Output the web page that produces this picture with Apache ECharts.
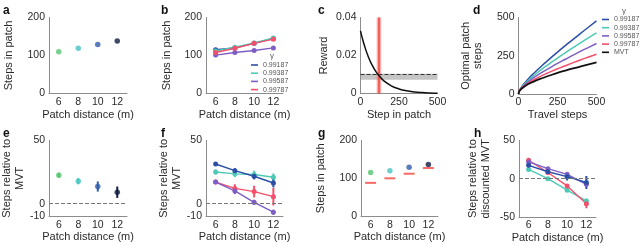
<!DOCTYPE html>
<html><head><meta charset="utf-8">
<script src="https://cdn.jsdelivr.net/npm/echarts@6/dist/echarts.min.js"></script>
<style>html,body{margin:0;padding:0;background:#fff}#c{width:640px;height:246px}</style>
</head><body><div id="c"></div>
<script>
// ---------- data ----------
const distances = [6, 8, 10, 12];
const gammaNames = ['0.99187', '0.99387', '0.99587', '0.99787'];
const mvtName = 'MVT';
// a
const aSteps = [110, 119, 129, 138];
// b
const bBlue = [115, 120, 132, 145];
const bTeal = [112, 122, 133, 146];
const bPurple = [101, 108, 113, 120];
const bRed = [108, 119, 132, 143];
// c
const cSteps = [0, 10, 25, 50, 75, 100, 125, 150, 200, 250, 300, 350, 400, 450, 500];
const cReward = [0.033, 0.0297, 0.0254, 0.0195, 0.0150, 0.0115, 0.0089, 0.0068, 0.0040, 0.0024, 0.0014, 0.00083, 0.0005, 0.00029, 0.00017];
const cLeaveStep = 120, cLeaveStepErr = 15;
const cThreshold = 0.0088, cThresholdErr = 0.0016;
// d
const dTravel = [0, 5, 15, 30, 50, 75, 100, 150, 200, 250, 300, 350, 400, 450, 500];
const dBlue = [0, 20, 38, 60, 84, 112, 137, 185, 230, 274, 316, 357, 398, 438, 478];
const dTeal = [0, 19, 36, 55, 76, 100, 122, 162, 199, 235, 269, 303, 336, 368, 400];
const dPurple = [0, 18, 34, 51, 69, 89, 108, 141, 171, 200, 227, 254, 280, 305, 330];
const dRed = [0, 18, 32, 47, 62, 79, 94, 120, 143, 165, 185, 205, 224, 242, 260];
const dMVT = [0, 17, 30, 43, 57, 71, 83, 103, 121, 138, 153, 167, 180, 193, 206];
// e
const eMean = [22.5, 17.7, 13.5, 9];
const eErr = [2, 2.5, 4, 4.5];
// f
const fBlue = [31.3, 26, 21.6, 16.3], fBlueErr = [1.5, 2, 2.5, 3.5];
const fTeal = [25, 23.5, 23, 20.8], fTealErr = [2, 2.5, 3, 3];
const fPurple = [17, 10, 1, -6.8], fPurpleErr = [1.5, 2.5, 2, 2];
const fRed = [17, 12, 9.5, 5.5], fRedErr = [1.5, 3.3, 4.6, 7];
// g
const gSteps = [115, 120, 129, 136];
const gMVT = [88, 100, 112, 127];
// h
const hBlue = [17.4, 9, 2.6, -5], hBlueErr = [3, 3, 5, 8.5];
const hTeal = [12, 0, -15, -29], hTealErr = [2, 1.5, 2, 3];
const hPurple = [21.8, 13, 5.6, -7.4], hPurpleErr = [2, 2, 3, 3];
const hRed = [24, 8, -9.5, -32.6], hRedErr = [2, 2, 2, 6];

// ---------- styles ----------
const FONT = "'Liberation Sans', Arial, sans-serif";
const TXT = '#2a2a2a';
const AX = '#8c8c8c';
const C_BLUE = '#2b4fa6', C_TEAL = '#4ec9b5', C_PURPLE = '#7d5ec4', C_RED = '#f4506b', C_BLACK = '#111';
const gammaColors = [C_BLUE, C_TEAL, C_PURPLE, C_RED];
const dotColors = ['#56c470', '#47c3c0', '#2f5dab', '#101c45'];

const grids = [
  {left: 49, top: 17.5, width: 78, height: 76},
  {left: 206, top: 17.5, width: 77, height: 76},
  {left: 360.5, top: 17.5, width: 77, height: 76},
  {left: 518.5, top: 17.5, width: 78, height: 76.5},
  {left: 49, top: 140.3, width: 78, height: 76},
  {left: 206, top: 140.3, width: 77, height: 76},
  {left: 361, top: 140.3, width: 77, height: 76},
  {left: 519, top: 140.3, width: 77, height: 76.7}
];

const labelStyle = {color: TXT, fontSize: 10.5, fontFamily: FONT};
const nameStyle = {color: TXT, fontSize: 11, fontFamily: FONT, lineHeight: 12.5};

function xDist(gi) {
  return {
    gridIndex: gi, type: 'value', min: 5, max: 13, interval: 1,
    axisLine: {onZero: false, lineStyle: {color: AX, width: 1}},
    axisTick: {show: false}, splitLine: {show: false},
    axisLabel: Object.assign({margin: 3, formatter: v => distances.includes(v) ? String(v) : ''}, labelStyle),
    name: 'Patch distance (m)', nameLocation: 'middle', nameGap: 14, nameTextStyle: nameStyle
  };
}
function xSteps(gi, name) {
  return {
    gridIndex: gi, type: 'value', min: 0, max: 500, interval: 250,
    axisLine: {onZero: false, lineStyle: {color: AX, width: 1}},
    axisTick: {show: false}, splitLine: {show: false},
    axisLabel: Object.assign({margin: 3}, labelStyle),
    name: name, nameLocation: 'middle', nameGap: 14, nameTextStyle: nameStyle
  };
}
function yAxis(gi, min, max, interval, name, gap, shown, fmt) {
  return {
    gridIndex: gi, type: 'value', min, max, interval,
    axisLine: {onZero: false, lineStyle: {color: AX, width: 1}},
    axisTick: {show: false}, splitLine: {show: false},
    axisLabel: Object.assign({margin: 4, formatter: v => shown.some(s => Math.abs(s - v) < 1e-9) ? (fmt ? fmt(v) : String(v)) : ''}, labelStyle),
    name, nameLocation: 'middle', nameRotate: 90, nameGap: gap, nameTextStyle: nameStyle
  };
}

const pts = arr => distances.map((d, i) => [d, arr[i]]);
const errPts = (m, e) => distances.map((d, i) => [d, m[i] - e[i], m[i] + e[i]]);

function errSeries(gi, m, e, colorFn) {
  return {
    type: 'custom', xAxisIndex: gi, yAxisIndex: gi, z: 2,
    encode: {x: 0, y: [1, 2]},
    data: errPts(m, e),
    renderItem: (params, api) => {
      const p1 = api.coord([api.value(0), api.value(1)]);
      const p2 = api.coord([api.value(0), api.value(2)]);
      return {type: 'line', shape: {x1: p1[0], y1: p1[1], x2: p2[0], y2: p2[1]},
        style: {stroke: colorFn(params.dataIndex), lineWidth: 2}};
    }
  };
}
function lineSeries(gi, name, arr, color, sym) {
  return {
    type: 'line', name, xAxisIndex: gi, yAxisIndex: gi, z: 3,
    data: pts(arr), symbol: 'circle', symbolSize: sym || 5, showSymbol: true,
    lineStyle: {color, width: 1.4}, itemStyle: {color}, color
  };
}
function dotSeries(gi, arr) {
  return {
    type: 'scatter', xAxisIndex: gi, yAxisIndex: gi, z: 4, symbolSize: 5.5,
    data: pts(arr), itemStyle: {color: p => dotColors[p.dataIndex]}
  };
}
const zeroLine = gi => ({
  type: 'line', xAxisIndex: gi, yAxisIndex: gi, data: [], z: 1,
  markLine: {silent: true, symbol: 'none', label: {show: false},
    lineStyle: {color: '#777', type: 'dashed', width: 1}, data: [{yAxis: 0}]}
});

const fSets = [[fTeal, fTealErr, C_TEAL, gammaNames[1]], [fBlue, fBlueErr, C_BLUE, gammaNames[0]],
               [fRed, fRedErr, C_RED, gammaNames[3]], [fPurple, fPurpleErr, C_PURPLE, gammaNames[2]]];
const hSets = [[hTeal, hTealErr, C_TEAL, gammaNames[1]], [hRed, hRedErr, C_RED, gammaNames[3]],
               [hPurple, hPurpleErr, C_PURPLE, gammaNames[2]], [hBlue, hBlueErr, C_BLUE, gammaNames[0]]];

const series = [];
// a
series.push(dotSeries(0, aSteps));
// b
[bBlue, bTeal, bPurple, bRed].forEach((arr, i) => series.push(lineSeries(1, gammaNames[i], arr, gammaColors[i])));
// c
series.push({
  type: 'line', xAxisIndex: 2, yAxisIndex: 2, z: 5, symbol: 'none', smooth: true,
  data: cSteps.map((s, i) => [s, cReward[i]]), lineStyle: {color: C_BLACK, width: 1.5},
  markArea: {silent: true, data: [
    [{yAxis: cThreshold - cThresholdErr, itemStyle: {color: 'rgba(150,150,150,0.55)'}}, {yAxis: cThreshold + cThresholdErr}],
    [{xAxis: cLeaveStep - cLeaveStepErr, itemStyle: {color: 'rgba(245,110,110,0.55)'}}, {xAxis: cLeaveStep + cLeaveStepErr}]
  ]},
  markLine: {silent: true, symbol: 'none', label: {show: false}, data: [
    {yAxis: cThreshold, lineStyle: {color: '#333', type: 'dashed', width: 1}},
    {xAxis: cLeaveStep, lineStyle: {color: '#f0443c', type: 'solid', width: 1.5}}
  ]}
});
// d
[dBlue, dTeal, dPurple, dRed].forEach((arr, i) => series.push({
  type: 'line', name: gammaNames[i], xAxisIndex: 3, yAxisIndex: 3, symbol: 'none', smooth: true,
  data: dTravel.map((t, k) => [t, arr[k]]), lineStyle: {color: gammaColors[i], width: 1.5}, color: gammaColors[i]
}));
series.push({
  type: 'line', name: mvtName, xAxisIndex: 3, yAxisIndex: 3, symbol: 'none', smooth: true,
  data: dTravel.map((t, k) => [t, dMVT[k]]), lineStyle: {color: C_BLACK, width: 1.8}, color: C_BLACK
});
// e
series.push(zeroLine(4));
series.push(errSeries(4, eMean, eErr, i => dotColors[i]));
series.push(dotSeries(4, eMean));
// f
series.push(zeroLine(5));
fSets.forEach(s => { series.push(errSeries(5, s[0], s[1], () => s[2])); });
fSets.forEach(s => { series.push(lineSeries(5, s[3], s[0], s[2])); });
// g
series.push(dotSeries(6, gSteps));
series.push({type: 'scatter', xAxisIndex: 6, yAxisIndex: 6, symbol: 'rect', symbolSize: [11, 2], z: 4,
  data: pts(gMVT), itemStyle: {color: '#f2463e'}});
// h
series.push(zeroLine(7));
hSets.forEach(s => { series.push(errSeries(7, s[0], s[1], () => s[2])); });
hSets.forEach(s => { series.push(lineSeries(7, s[3], s[0], s[2])); });

const letters = [['a', 3, 5], ['b', 161, 5], ['c', 318, 5], ['d', 473, 5],
                 ['e', 3, 128], ['f', 161, 128], ['g', 318, 128], ['h', 474, 128]];

const legendBase = {
  orient: 'vertical', icon: 'rect', itemWidth: 7, itemHeight: 1.6, itemGap: 0.2, padding: 0,
  selectedMode: false, textStyle: {fontSize: 7, lineHeight: 8, color: '#555', fontFamily: FONT}
};

const option = {
  animation: false,
  backgroundColor: '#fff',
  grid: grids.map(g => Object.assign({containLabel: false}, g)),
  xAxis: [xDist(0), xDist(1), xSteps(2, 'Step in patch'), xSteps(3, 'Travel steps'),
          xDist(4), xDist(5), xDist(6), xDist(7)],
  yAxis: [
    yAxis(0, 0, 200, 100, 'Steps in patch', 34, [0, 100, 200]),
    yAxis(1, 0, 200, 100, 'Steps in patch', 33, [0, 100, 200]),
    yAxis(2, 0, 0.04, 0.02, 'Reward', 30, [0, 0.02, 0.04], v => v === 0 ? '0' : v.toFixed(2)),
    yAxis(3, 0, 500, 250, 'Optimal patch\nsteps', 34, [0, 250, 500]),
    yAxis(4, -10, 50, 10, 'Steps relative to\nMVT', 23, [-10, 0, 50]),
    yAxis(5, -10, 50, 10, 'Steps relative to\nMVT', 19, [-10, 0, 50]),
    yAxis(6, 0, 200, 100, 'Steps in patch', 34, [0, 100, 200]),
    yAxis(7, -50, 50, 50, 'Steps relative to\ndiscounted MVT', 27, [-50, 0, 50])
  ],
  legend: [
    Object.assign({left: 251, top: 61, data: gammaNames.slice()}, legendBase),
    Object.assign({left: 602, top: 15.5, data: gammaNames.concat([mvtName])}, legendBase)
  ],
  graphic: letters.map(l => ({type: 'text', left: l[1], top: l[2],
      style: {text: l[0], font: 'bold 12px ' + FONT, fill: '#111'}}))
    .concat([
      {type: 'text', x: 272, y: 56, style: {text: 'γ', font: '8px ' + FONT, fill: '#555', align: 'center', verticalAlign: 'middle'}},
      {type: 'text', x: 624, y: 11, style: {text: 'γ', font: '8px ' + FONT, fill: '#555', align: 'center', verticalAlign: 'middle'}}
    ]),
  series
};

const chart = echarts.init(document.getElementById('c'), null, {renderer: 'canvas'});
chart.setOption(option);
</script>
</body></html>
